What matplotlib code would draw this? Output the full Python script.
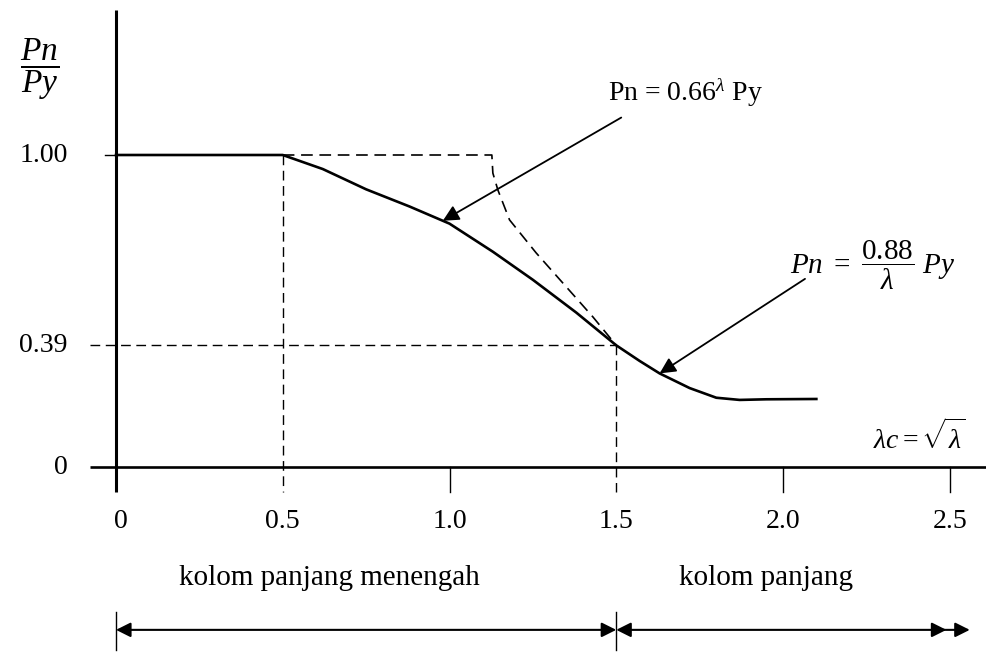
import numpy as np
import matplotlib
matplotlib.use("Agg")
import matplotlib.pyplot as plt

plt.rcParams['font.family'] = ['Liberation Serif', 'DejaVu Serif']
plt.rcParams['mathtext.fontset'] = 'custom'
plt.rcParams['mathtext.rm'] = 'Liberation Serif'
plt.rcParams['mathtext.it'] = 'Liberation Serif:italic'
plt.rcParams['mathtext.bf'] = 'Liberation Serif:bold'

# ---- data ----
lam_solid = [0.0, 0.5, 0.62, 0.75, 0.88, 1.0, 1.13, 1.25, 1.38, 1.5, 1.57, 1.63, 1.72, 1.80, 1.87, 1.95, 2.10]
pn_solid = [1.0, 1.0, 0.955, 0.89, 0.835, 0.78, 0.69, 0.60, 0.495, 0.39, 0.34, 0.30, 0.253, 0.222, 0.215, 0.217, 0.218]

lam_dashed = [0.5, 1.127, 1.13, 1.145, 1.18, 1.26, 1.43, 1.5]
pn_dashed = [1.0, 1.0, 0.942, 0.888, 0.792, 0.686, 0.481, 0.39]

x_ticks = [0.0, 0.5, 1.0, 1.5, 2.0, 2.5]
x_tick_labels = ['0', '0.5', '1.0', '1.5', '2.0', '2.5']
y_ticks = [0.0, 0.39, 1.0]
y_tick_labels = ['0', '0.39', '1.00']

lam_limit = 0.5       # inelastic limit
lam_break = 1.5       # boundary between regions
pn_break = 0.39
lam_arrow1 = 0.98
lam_arrow2 = 1.63
region_labels = ['kolom panjang menengah', 'kolom panjang']

# ---- figure ----
W, H = 986, 660
fig = plt.figure(figsize=(W / 100, H / 100), dpi=100)
ax = fig.add_axes([0, 0, 1, 1])
X0, SX, Y0, SY = 116, 333.5, 467, 312
ax.set_xlim(-X0 / SX, (W - X0) / SX)
ax.set_ylim((Y0 - H) / SY, Y0 / SY)
ax.axis('off')

K = 'black'
dash = (0, (7, 4))
fs = 20

# axes lines
ax.plot([0, 0], [-0.08, 1.465], color=K, lw=2.2, solid_capstyle='butt')
ax.plot([-0.078, 2.61], [0, 0], color=K, lw=1.9, solid_capstyle='butt')
# ticks below x-axis
for t in x_ticks:
    if t in (0.0, lam_limit, lam_break):
        continue
    ax.plot([t, t], [0, -0.08], color=K, lw=1.0)
# small tick at 1.00
ax.plot([-0.033, 0], [1.0, 1.0], color=K, lw=1.0)

# reference dashed lines
ax.plot([lam_limit, lam_limit], [1.0, -0.08], color=K, lw=1.0, ls=dash)
ax.plot([lam_break, lam_break], [pn_break, -0.08], color=K, lw=1.0, ls=dash)
ax.plot([-0.078, lam_break], [pn_break, pn_break], color=K, lw=1.0, ls=dash)

# curves
ax.plot(lam_dashed, pn_dashed, color=K, lw=1.2, ls=dash)
ax.plot(lam_solid, pn_solid, color=K, lw=1.9)

# tick labels
for t, lab in zip(x_ticks, x_tick_labels):
    ax.text(t + (0.015 if t == 0 else 0), -0.176, lab, ha='center', va='center', fontsize=fs)
for t, lab in zip(y_ticks, y_tick_labels):
    ax.text(-0.145, t, lab, ha='right', va='center', fontsize=fs)

# axis labels
ax.text(-0.23, 1.275, r'$\dfrac{Pn}{Py}$', ha='center', va='center', fontsize=24)
ax.text(2.41, 0.096, r'$\lambda c = \sqrt{\lambda}$', ha='center', va='center', fontsize=fs)

# annotations
tip1 = (lam_arrow1, float(np.interp(lam_arrow1, lam_solid, pn_solid)))
ax.annotate('', xy=tip1, xytext=(1.515, 1.12),
            arrowprops=dict(arrowstyle='-|>', mutation_scale=24, lw=1.3, color=K,
                            shrinkA=0, shrinkB=0))
ax.text(1.476, 1.199, r'Pn = 0.66$^{\lambda}$ Py', ha='left', va='center', fontsize=fs)

tip2 = (lam_arrow2, float(np.interp(lam_arrow2, lam_solid, pn_solid)))
ax.annotate('', xy=tip2, xytext=(2.066, 0.603),
            arrowprops=dict(arrowstyle='-|>', mutation_scale=24, lw=1.3, color=K,
                            shrinkA=0, shrinkB=0))
ax.text(2.02, 0.647, r'$Pn\ =\ \dfrac{0.88}{\lambda}\ Py$', ha='left', va='center', fontsize=21)

# region labels
ax.text(0.64, -0.356, region_labels[0], ha='center', va='center', fontsize=21)
ax.text(1.95, -0.356, region_labels[1], ha='center', va='center', fontsize=21)

# region arrows
ya = -0.522
ax.plot([0, 0], [-0.465, -0.587], color=K, lw=1.0)
ax.plot([lam_break, lam_break], [-0.465, -0.587], color=K, lw=1.0)
ap = dict(arrowstyle='<|-|>', mutation_scale=22, lw=1.5, color=K, shrinkA=0, shrinkB=0)
ax.annotate('', xy=(lam_break, ya), xytext=(0, ya), arrowprops=ap)
ax.annotate('', xy=(2.49, ya), xytext=(lam_break, ya), arrowprops=ap)
ax.annotate('', xy=(2.56, ya), xytext=(2.45, ya),
            arrowprops=dict(arrowstyle='-|>', mutation_scale=22, lw=1.5, color=K,
                            shrinkA=0, shrinkB=0))

fig.savefig('out.png', dpi=100, facecolor='white')
